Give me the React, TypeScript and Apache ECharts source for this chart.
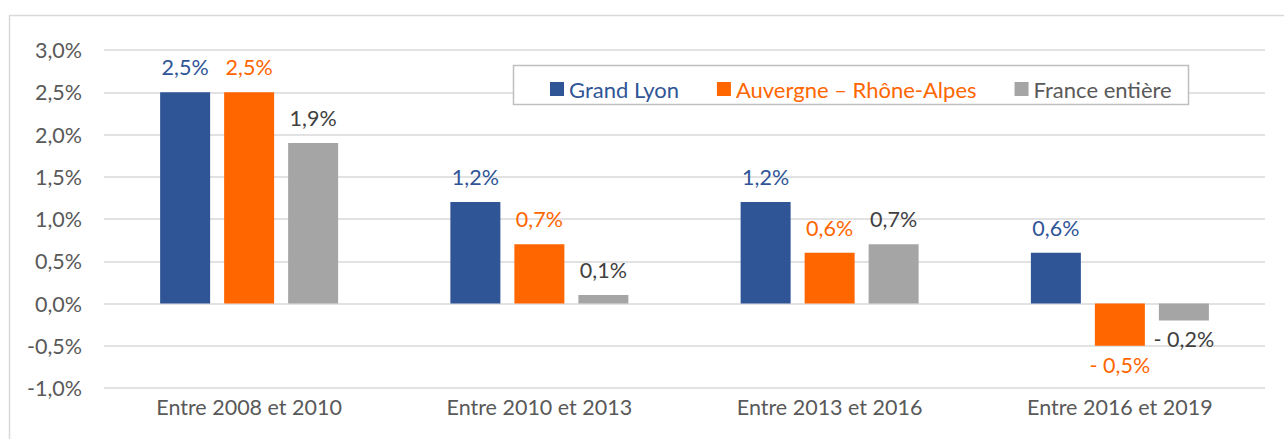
import React, { useEffect, useRef } from "react";
import * as echarts from "echarts";

const categories = ["Entre 2008 et 2010", "Entre 2010 et 2013", "Entre 2013 et 2016", "Entre 2016 et 2019"];
const seriesNames = ["Grand Lyon", "Auvergne – Rhône-Alpes", "France entière"];
const grandLyon = [2.5, 1.2, 1.2, 0.6];
const auvergne = [2.5, 0.7, 0.6, -0.5];
const france = [1.9, 0.1, 0.7, -0.2];
const barColors = ["#2F5597", "#FF6600", "#A5A5A5"];
const labelColors = ["#2F5597", "#FF6600", "#404040"];
const legendTextColors = ["#2F5597", "#FF6600", "#595959"];

const FONT = "Lato, 'Open Sans', sans-serif";

const fmt = (v: number) => {
  const s = Math.abs(v).toFixed(1).replace(".", ",") + "%";
  return v < 0 ? "- " + s : s;
};

export default function App() {
  const ref = useRef<HTMLDivElement>(null);
  useEffect(() => {
    if (!ref.current) return;
    const chart = echarts.init(ref.current, undefined, { renderer: "svg" });
    const all = [grandLyon, auvergne, france];
    chart.setOption({
      animation: false,
      backgroundColor: "#fff",
      textStyle: { fontFamily: FONT },
      grid: { left: 104, right: 19, top: 50, bottom: 51 },
      graphic: [
        {
          type: "rect",
          shape: { x: 9.5, y: 15.5, width: 1300, height: 500 },
          style: { fill: "none", stroke: "#D9D9D9", lineWidth: 1.5 },
          silent: true,
          z: -1,
        },
        {
          type: "rect",
          shape: { x: 513.5, y: 65.5, width: 675, height: 39 },
          style: { fill: "#fff", stroke: "#BFBFBF", lineWidth: 1.5 },
          silent: true,
          z: 10,
        },
      ],
      legend: {
        left: 550,
        top: 78,
        padding: 0,
        itemWidth: 14,
        itemHeight: 14,
        itemGap: 38,
        icon: "rect",
        z: 20,
        data: seriesNames.map((n, i) => ({
          name: n,
          textStyle: { color: legendTextColors[i], fontSize: 22, fontFamily: FONT, padding: [0, 0, 0, 0] },
        })),
      },
      xAxis: {
        type: "category",
        data: categories,
        axisLine: { show: false, onZero: false },
        axisTick: { show: false },
        axisLabel: { color: "#595959", fontSize: 21.5, fontFamily: FONT, margin: 8 },
      },
      yAxis: {
        type: "value",
        min: -1,
        max: 3,
        interval: 0.5,
        axisLine: { show: false },
        axisTick: { show: false },
        splitLine: { lineStyle: { color: "#D9D9D9", width: 1.5 } },
        axisLabel: {
          color: "#595959",
          fontSize: 21.5,
          fontFamily: FONT,
          margin: 22,
          formatter: (v: number) => v.toFixed(1).replace(".", ",") + "%",
        },
      },
      series: all.map((arr, i) => ({
        name: seriesNames[i],
        type: "bar",
        barWidth: 50,
        barGap: "28%",
        itemStyle: { color: barColors[i] },
        data: arr.map((v) => ({
          value: v,
          label: { position: v < 0 ? "bottom" : "top", distance: v < 0 ? 8 : 14 },
        })),
        label: {
          show: true,
          color: labelColors[i],
          fontSize: 21.5,
          fontFamily: FONT,
          formatter: (p: any) => fmt(p.value),
        },
      })),
    });
    return () => chart.dispose();
  }, []);
  return (
    <div
      ref={ref}
      style={{ position: "fixed", left: 0, top: 0, width: 1284, height: 439 }}
    />
  );
}
